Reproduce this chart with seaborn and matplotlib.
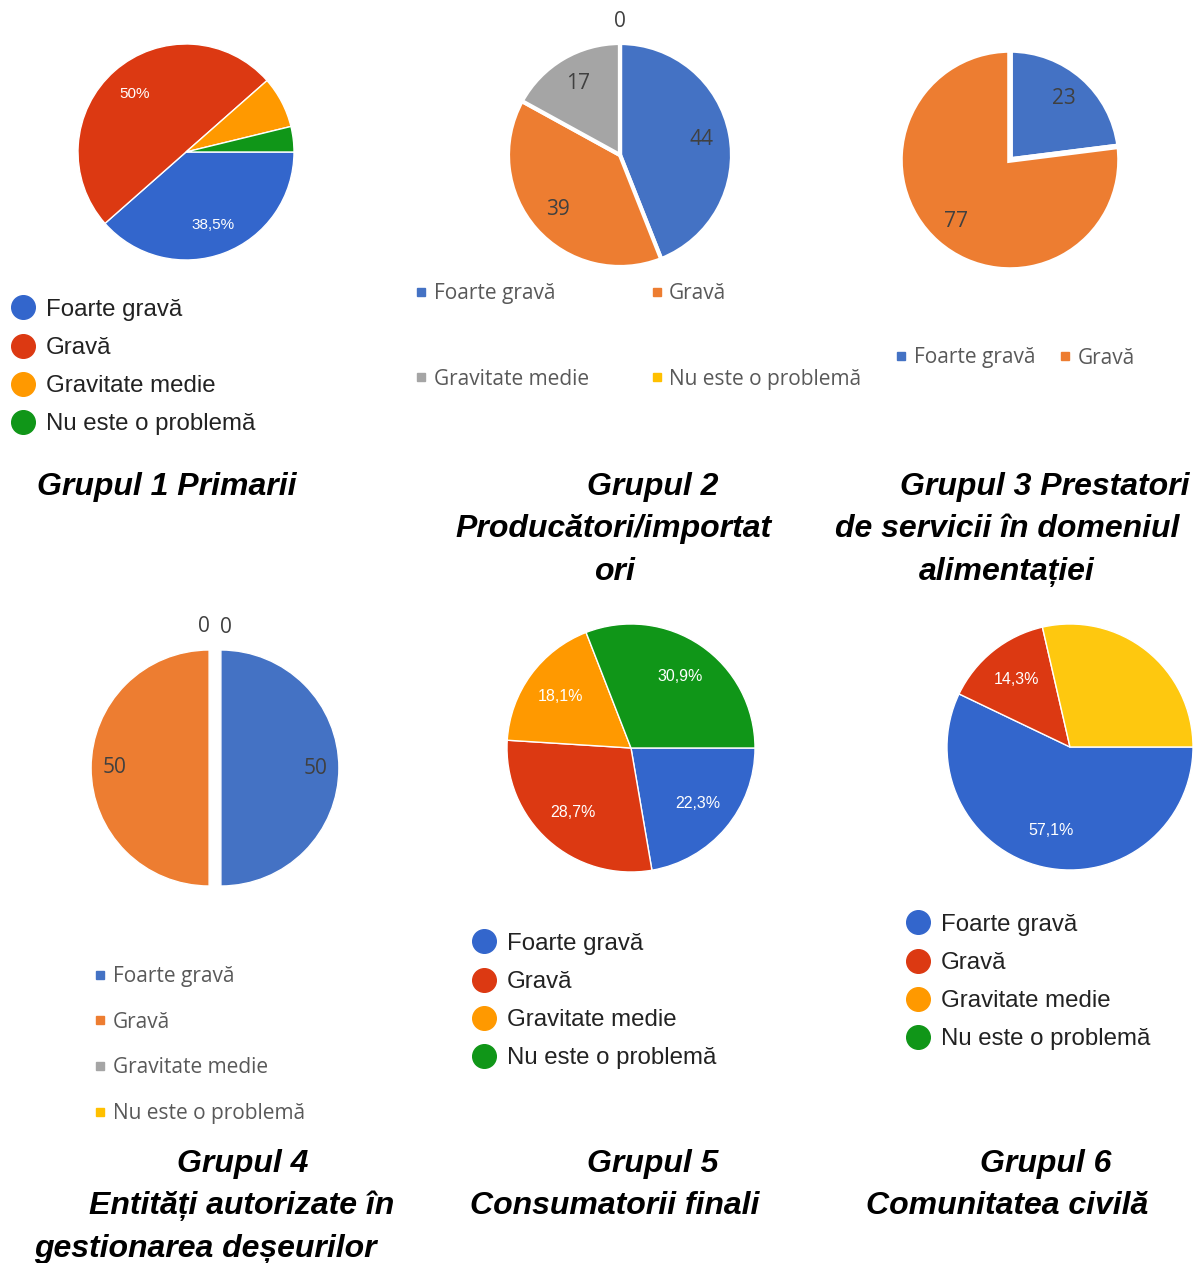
import matplotlib
matplotlib.use("Agg")
import matplotlib.pyplot as plt
from matplotlib.lines import Line2D
import seaborn as sns

sns.set_theme(style="white")
plt.rcParams['font.family'] = ['Liberation Sans', 'DejaVu Sans']

W, H = 1196, 1263

# ---------------- data ----------------
categories = ["Foarte gravă", "Gravă", "Gravitate medie", "Nu este o problemă"]

g1_values = [38.5, 50.0, 7.7, 3.8]          # percent
g2_values = [44, 39, 17, 0]
g3_values = [23, 77]
g4_values = [50, 50, 0, 0]
g5_values = [22.3, 28.7, 18.1, 30.9]        # percent
g6_values = [57.1, 14.3, 28.6]              # percent
g6_label_shown = [True, True, False]

google_colors = ["#3366CC", "#DC3912", "#FF9900", "#109618"]
excel_colors = ["#4472C4", "#ED7D31", "#A5A5A5", "#FFC000"]
g6_colors = ["#3366CC", "#DC3912", "#FEC80F"]

title_lines = {
    "g1": ["Grupul 1 Primarii"],
    "g2": ["Grupul 2", "Producători/importat", "ori"],
    "g3": ["Grupul 3 Prestatori", "de servicii în domeniul", "alimentației"],
    "g4": ["Grupul 4", "Entități autorizate în", "gestionarea deșeurilor"],
    "g5": ["Grupul 5", "Consumatorii finali"],
    "g6": ["Grupul 6", "Comunitatea civilă"],
}

fig = plt.figure(figsize=(W / 100, H / 100), dpi=100)
fig.patch.set_facecolor("white")

PAD = 1.3


def pie_axes(cx, cy, r):
    return fig.add_axes([(cx - PAD * r) / W, 1 - (cy + PAD * r) / H,
                         2 * PAD * r / W, 2 * PAD * r / H])


def finish(ax):
    ax.set_xlim(-PAD, PAD)
    ax.set_ylim(-PAD, PAD)
    ax.set_aspect("equal")
    ax.axis("off")


def google_fmt(p):
    s = f"{p:.1f}"
    if s.endswith(".0"):
        s = s[:-2]
    return s.replace(".", ",") + "%"


def google_pie(ax, values, colors, fsize, shown=None, pctd=0.72):
    it = iter(shown) if shown is not None else None

    def ap(p):
        show = next(it) if it is not None else p >= 10
        return google_fmt(p) if show else ""

    wedges, _, _ = ax.pie(values, colors=colors, startangle=0, counterclock=False,
                          autopct=ap, pctdistance=pctd,
                          wedgeprops=dict(edgecolor="white", linewidth=1),
                          textprops=dict(color="white", fontsize=fsize,
                                         family=["Liberation Sans"]))
    finish(ax)
    return wedges


def excel_pie(ax, values, colors, lw, explode=None, pctd=0.74):
    zero_labels = ["0" if v == 0 else "" for v in values]
    wedges, texts, _ = ax.pie(values, colors=colors, startangle=90, counterclock=False,
                              labels=zero_labels, labeldistance=1.19,
                              autopct=lambda p: f"{p:.0f}" if p > 0 else "",
                              pctdistance=pctd, explode=explode,
                              wedgeprops=dict(edgecolor="white", linewidth=lw),
                              textprops=dict(color="#404040", fontsize=15,
                                             family=["Open Sans", "DejaVu Sans"]))
    zt = [t for t in texts if t.get_text()]
    if len(zt) == 1:
        zt[0].set_ha("center")
    elif len(zt) == 2:
        x, y = zt[0].get_position()
        zt[0].set_position((x - 0.04, y + 0.01))
        zt[0].set_ha("right")
        x, y = zt[1].get_position()
        zt[1].set_position((x + 0.04, y))
        zt[1].set_ha("left")
    finish(ax)
    return wedges


def google_legend(colors, x_left, y_center):
    handles = [Line2D([0], [0], marker="o", ls="", markersize=17,
                      markerfacecolor=c, markeredgecolor=c) for c in colors]
    fig.legend(handles, categories, loc="center left",
               bbox_to_anchor=(x_left / W, 1 - y_center / H), bbox_transform=fig.transFigure,
               frameon=False, borderpad=0, borderaxespad=0, handlelength=0.97,
               handletextpad=0.47, labelspacing=0.67,
               prop={"family": "Liberation Sans", "size": 17.3}, labelcolor="#222222")


def excel_legend(colors, labels, x_left, y_center, ncol=1, labelspacing=1.1, colspacing=2.0,
                 order=None):
    handles = [Line2D([0], [0], marker="s", ls="", markersize=6,
                      markerfacecolor=c, markeredgecolor=c) for c in colors]
    if order is not None:
        handles = [handles[i] for i in order]
        labels = [labels[i] for i in order]
    fig.legend(handles, labels, loc="center left", ncol=ncol,
               bbox_to_anchor=(x_left / W, 1 - y_center / H), bbox_transform=fig.transFigure,
               frameon=False, borderpad=0, borderaxespad=0, handlelength=0.5,
               handletextpad=0.35, labelspacing=labelspacing, columnspacing=colspacing,
               prop={"family": "Open Sans", "size": 15}, labelcolor="#595959")


# ---- Group 1 ----
ax1 = pie_axes(186, 152, 108)
google_pie(ax1, g1_values, google_colors, 11)
google_legend(google_colors, 11.5, 367)

# ---- Group 2 ----
ax2 = pie_axes(620, 155, 112)
excel_pie(ax2, g2_values, excel_colors, 3)
excel_legend(excel_colors, categories, 416, 336.5, ncol=2, labelspacing=3.1, colspacing=3.0,
             order=[0, 2, 1, 3])

# ---- Group 3 ----
ax3 = pie_axes(1010, 160, 110)
excel_pie(ax3, g3_values, excel_colors[:2], 4)
excel_legend(excel_colors[:2], categories[:2], 896, 358, ncol=2, colspacing=1.2)

# ---- Group 4 ----
ax4 = pie_axes(215, 768, 118)
excel_pie(ax4, g4_values, excel_colors, 1, explode=[0.05, 0.05, 0, 0], pctd=0.8)
excel_legend(excel_colors, categories, 95, 1045, labelspacing=1.18)

# ---- Group 5 ----
ax5 = pie_axes(631, 748, 124)
google_pie(ax5, g5_values, google_colors, 11.5, pctd=0.7)
google_legend(google_colors, 472.5, 1001)

# ---- Group 6 ----
ax6 = pie_axes(1070, 747, 123)
google_pie(ax6, g6_values, g6_colors, 11.5, shown=g6_label_shown, pctd=0.7)
google_legend(google_colors, 906.5, 982)

# ---- titles ----
title_pos = {
    "g1": [(167, 484)],
    "g2": [(653, 484), (614, 526), (614, 569)],
    "g3": [(1045, 484), (1007, 526), (1007, 569)],
    "g4": [(243, 1161), (242, 1203), (205, 1246)],
    "g5": [(653, 1161), (615, 1203)],
    "g6": [(1046, 1161), (1007, 1203)],
}
for key, lines in title_lines.items():
    for text, (x, y) in zip(lines, title_pos[key]):
        fig.text(x / W, 1 - (y + 3) / H, text, ha="center", va="center",
                 fontsize=23, fontweight="bold", fontstyle="italic",
                 family=["Liberation Sans", "DejaVu Sans"], color="black")

fig.savefig("out.png", dpi=100, facecolor="white")
